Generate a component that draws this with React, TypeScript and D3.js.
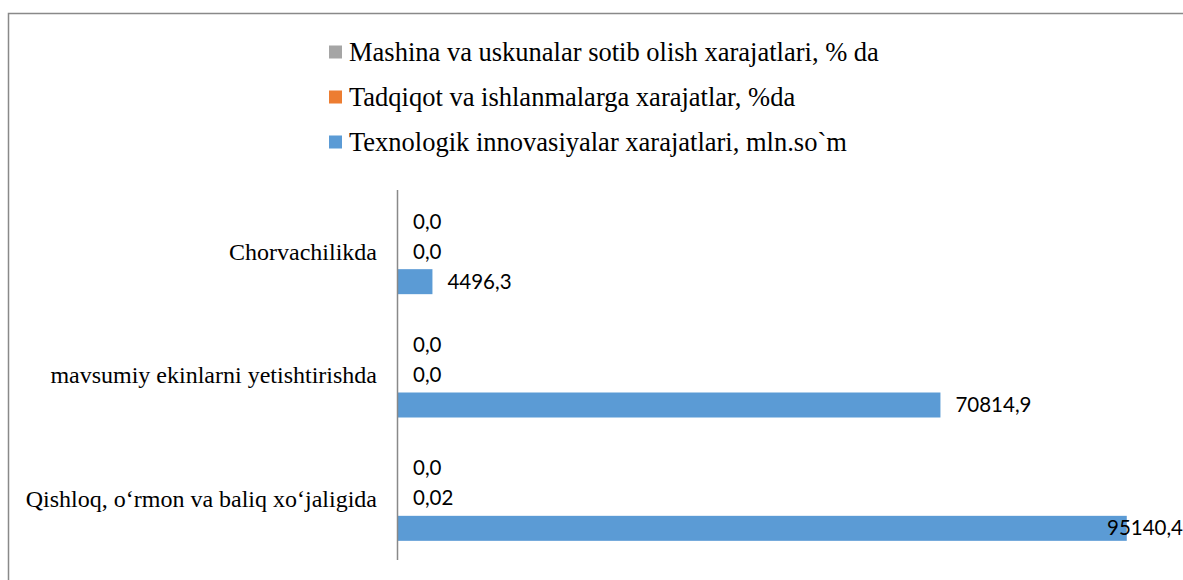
import React, { useEffect, useRef } from 'react';
import * as d3 from 'd3';

// kategoriyalar (pastdan yuqoriga, Excel tartibida)
const categories = ['Qishloq, o‘rmon va baliq xo‘jaligida', 'mavsumiy ekinlarni yetishtirishda', 'Chorvachilikda'];

// seriyalar
const seriesNames = [
  'Texnologik innovasiyalar xarajatlari, mln.so`m',
  'Tadqiqot va ishlanmalarga xarajatlar, %da',
  'Mashina va uskunalar sotib olish xarajatlari, % da',
];
const texnologik = [95140.4, 70814.9, 4496.3];
const tadqiqot = [0.02, 0.0, 0.0];
const mashina = [0.0, 0.0, 0.0];

const colors = ['#5B9BD5', '#ED7D31', '#A5A5A5'];

const W = 1183, H = 580;

const fmt = (v: number) => (v === 0 ? '0,0' : String(v).replace('.', ','));

export default function App() {
  const ref = useRef<SVGSVGElement>(null);

  useEffect(() => {
    const svg = d3.select(ref.current);
    svg.selectAll('*').remove();

    const values = [texnologik, tadqiqot, mashina];
    const serif = '"Liberation Serif", "Times New Roman", serif';
    const sans = 'Lato, "Open Sans", sans-serif';

    // ramka
    svg.append('path')
      .attr('d', `M8.5,${H} V13.5 H${W}`)
      .attr('fill', 'none')
      .attr('stroke', '#898989')
      .attr('stroke-width', 1.5);

    const margin = { top: 190, bottom: 20, left: 398 };
    // kategoriya o'qi: birinchi kategoriya pastda
    const y = d3.scaleBand<string>()
      .domain(categories.slice().reverse())
      .range([margin.top, H - margin.bottom])
      .padding(0);
    // guruh ichidagi seriyalar: yuqoridan pastga Mashina, Tadqiqot, Texnologik
    const yInner = d3.scaleBand<number>()
      .domain([2, 1, 0])
      .range([y.bandwidth() / 2 - 45, y.bandwidth() / 2 + 45])
      .paddingInner(1 / 6)
      .paddingOuter(1 / 12);
    const x = d3.scaleLinear().domain([0, 100000]).range([margin.left, margin.left + 766]);

    // bars
    const groups = svg.append('g').selectAll('g')
      .data(categories.map((c, i) => ({ c, i })))
      .enter().append('g')
      .attr('transform', d => `translate(0,${y(d.c)})`);

    [0, 1, 2].forEach(s => {
      groups.append('rect')
        .attr('x', x(0))
        .attr('y', yInner(s)!)
        .attr('width', d => Math.max(0, x(values[s][d.i]) - x(0)))
        .attr('height', yInner.bandwidth())
        .attr('fill', colors[s]);

      groups.append('text')
        .attr('x', d => x(values[s][d.i]) + 15)
        .attr('y', yInner(s)! + yInner.bandwidth() / 2)
        .attr('dy', '0.35em')
        .attr('font-family', sans)
        .attr('font-size', 20.5)
        .attr('fill', '#000')
        .text(d => fmt(values[s][d.i]))
        .each(function () {
          const t = this as SVGTextElement;
          const len = t.getComputedTextLength();
          const x0 = +t.getAttribute('x')!;
          if (x0 + len > W) t.setAttribute('x', String(W - len));
        });
    });

    // o'q chizig'i
    svg.append('line')
      .attr('x1', x(0) - 0.5).attr('x2', x(0) - 0.5)
      .attr('y1', margin.top).attr('y2', H - margin.bottom)
      .attr('stroke', '#898989').attr('stroke-width', 1.5);

    // kategoriya yozuvlari
    svg.append('g').selectAll('text')
      .data(categories).enter().append('text')
      .attr('x', 377)
      .attr('y', d => y(d)! + y.bandwidth() / 2)
      .attr('dy', '0.35em')
      .attr('text-anchor', 'end')
      .attr('font-family', serif)
      .attr('font-size', 24)
      .attr('fill', '#000')
      .text(d => d);

    // legend (teskari tartibda)
    const legendOrder = [2, 1, 0];
    const lg = svg.append('g').selectAll('g')
      .data(legendOrder).enter().append('g')
      .attr('transform', (d, i) => `translate(329,${52 + i * 45})`);
    lg.append('rect')
      .attr('x', 0).attr('y', -6.5).attr('width', 13).attr('height', 13)
      .attr('fill', d => colors[d]);
    lg.append('text')
      .attr('x', 20).attr('y', 0).attr('dy', '0.35em')
      .attr('font-family', serif)
      .attr('font-size', 26.5)
      .attr('fill', '#000')
      .text(d => seriesNames[d]);
  }, []);

  return (
    <svg ref={ref} width={W} height={H}
      style={{ position: 'fixed', left: 0, top: 0, background: '#fff' }} />
  );
}
